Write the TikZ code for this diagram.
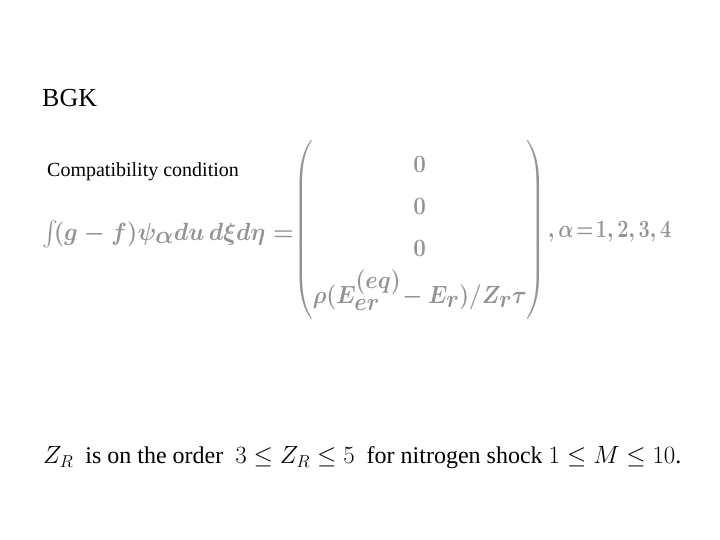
\documentclass[tikz,border=0pt]{standalone}
\usepackage{amsmath}
\usepackage{fontspec}
\setmainfont{Liberation Serif}
\begin{document}
\begin{tikzpicture}[x=1pt,y=-1pt]
\tikzset{txt/.style={inner sep=0pt,anchor=west,font=\rmfamily\fontsize{20}{24}\selectfont},
 eq/.style={inner sep=0pt,text=gray!85,font=\boldmath\fontsize{34}{40}\selectfont}}
\useasboundingbox (0,0) rectangle (720,540);
\node[txt,font=\rmfamily\fontsize{26}{30}\selectfont] (bgk) at (42,98) {BGK};
\node[txt,font=\rmfamily\fontsize{20}{24}\selectfont] (cc) at (47,172) {Compatibility condition};
\node[eq,anchor=east,xscale=0.95] (lhs) at (294,234) {$\int\! (g-f)\psi_\alpha du\,d\xi d\eta=$};
\node[eq,anchor=west,xscale=0.9] (mat) at (293,230) {$\begin{pmatrix}0\\[2pt]0\\[2pt]0\\[2pt]\rho(E_{er}^{(eq)}\!-E_r)/Z_r\tau\end{pmatrix}$};
\node[eq,anchor=west,xscale=0.8] (rhs) at (548,232) {$,\alpha\!=\!1,2,3,4$};
\node[txt,font=\rmfamily\fontsize{24}{28}\selectfont] (note) at (43,458) {$Z_R$\enspace is on the order\enspace $3\le Z_R\le 5$\enspace for nitrogen shock $1\le M\le 10$.};
\end{tikzpicture}
\end{document}
